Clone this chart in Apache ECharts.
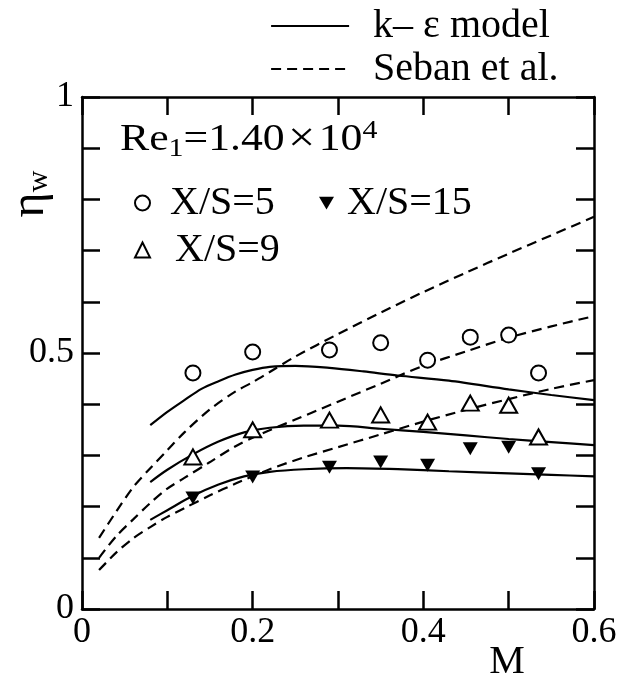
<!DOCTYPE html>
<html>
<head>
<meta charset="utf-8">
<script src="https://cdn.jsdelivr.net/npm/echarts@6/dist/echarts.min.js"></script>
<style>
  html, body { margin: 0; padding: 0; background: #fff; }
  #chart { width: 640px; height: 680px; }
</style>
</head>
<body>
<div id="chart"></div>
<script>
// measured points, M on x
const ptM   = [0.13, 0.2, 0.29, 0.35, 0.405, 0.455, 0.5, 0.535];
const xs5   = [0.461, 0.502, 0.506, 0.520, 0.486, 0.531, 0.535, 0.461];
const xs9   = [0.297, 0.350, 0.369, 0.379, 0.365, 0.402, 0.398, 0.336];
const xs15  = [0.217, 0.258, 0.277, 0.287, 0.281, 0.313, 0.316, 0.264];

// k-eps model curves
const ke5M    = [0.08, 0.10, 0.12, 0.14, 0.16, 0.18, 0.20, 0.22, 0.25, 0.29, 0.33, 0.37, 0.43, 0.50, 0.55, 0.60];
const ke5Eta  = [0.359, 0.385, 0.408, 0.43, 0.445, 0.458, 0.467, 0.473, 0.475, 0.471, 0.464, 0.456, 0.446, 0.429, 0.418, 0.408];
const ke9M    = [0.08, 0.10, 0.13, 0.16, 0.19, 0.22, 0.26, 0.30, 0.35, 0.40, 0.45, 0.50, 0.55, 0.60];
const ke9Eta  = [0.248, 0.272, 0.302, 0.327, 0.345, 0.354, 0.358, 0.358, 0.352, 0.346, 0.339, 0.332, 0.326, 0.32];
const ke15M   = [0.08, 0.10, 0.13, 0.16, 0.19, 0.22, 0.26, 0.31, 0.37, 0.43, 0.50, 0.55, 0.60];
const ke15Eta = [0.174, 0.193, 0.221, 0.243, 0.259, 0.268, 0.273, 0.275, 0.273, 0.269, 0.265, 0.262, 0.259];

// Seban et al. correlation
const sbAM   = [0.02, 0.04, 0.06, 0.08, 0.10, 0.12, 0.15, 0.18, 0.20, 0.22, 0.25, 0.30, 0.35, 0.40, 0.45, 0.50, 0.55, 0.60];
const sbAEta = [0.139, 0.19, 0.238, 0.275, 0.31, 0.345, 0.39, 0.425, 0.443, 0.463, 0.493, 0.537, 0.579, 0.619, 0.657, 0.694, 0.73, 0.766];
const sbBM   = [0.02, 0.04, 0.06, 0.08, 0.10, 0.12, 0.15, 0.18, 0.21, 0.25, 0.30, 0.35, 0.40, 0.45, 0.50, 0.55, 0.60];
const sbBEta = [0.10, 0.142, 0.175, 0.207, 0.235, 0.256, 0.287, 0.318, 0.342, 0.37, 0.405, 0.44, 0.475, 0.503, 0.53, 0.552, 0.572];
const sbCM   = [0.02, 0.04, 0.06, 0.08, 0.10, 0.12, 0.15, 0.18, 0.22, 0.26, 0.30, 0.35, 0.40, 0.45, 0.50, 0.55, 0.60];
const sbCEta = [0.076, 0.11, 0.138, 0.16, 0.18, 0.197, 0.222, 0.245, 0.273, 0.296, 0.316, 0.341, 0.366, 0.389, 0.41, 0.43, 0.447];

const KE = "k– ε model";
const SB = "Seban et al.";
const FONT = "Liberation Serif";

const zip = (xs, ys) => xs.map((x, i) => [x, ys[i]]);

function solid(m, eta) {
  return {
    name: KE, type: "line", data: zip(m, eta), smooth: 0.3, symbol: "none",
    lineStyle: { color: "#000", width: 2.2 }, itemStyle: { color: "#000" }, z: 2,
  };
}
function dashed(m, eta) {
  return {
    name: SB, type: "line", data: zip(m, eta), smooth: 0.3, symbol: "none",
    lineStyle: { color: "#000", width: 2.2, type: [10, 6] }, itemStyle: { color: "#000" }, z: 2,
  };
}

const TRI_DOWN = "path://M0,0L20,0L10,17Z";
const hollow = { color: "#fff", borderColor: "#000", borderWidth: 2, opacity: 1 };

const el = document.getElementById("chart");
const chart = echarts.init(el, null, { renderer: "canvas" });

const axisCommon = {
  type: "value",
  axisLine: { show: true, onZero: false, lineStyle: { color: "#000", width: 2.5 } },
  axisTick: { show: true, inside: true, length: 18, lineStyle: { color: "#000", width: 2.5 } },
  splitLine: { show: false },
};

function markerLegend(name, left, top, pad) {
  return {
    data: [name], left, top, padding: 0, orient: "horizontal",
    itemWidth: 15, itemHeight: 15, selectedMode: false,
    textStyle: { fontFamily: FONT, fontSize: 40, lineHeight: 40, color: "#000", padding: [0, 0, 0, pad] },
  };
}

chart.setOption({
  animation: false,
  backgroundColor: "#fff",
  grid: { left: 82, right: 46, top: 97, bottom: 71 },
  legend: [
    {
      data: [KE, SB], orient: "vertical", left: 270, top: 6, padding: 0,
      itemWidth: 78, itemHeight: 14, itemGap: 3, selectedMode: false,
      itemStyle: { opacity: 0, borderWidth: 0 },
      lineStyle: { width: 2.2 },
      textStyle: { fontFamily: FONT, fontSize: 40, lineHeight: 34, color: "#000", padding: [0, 0, 0, 19] },
    },
    markerLegend("X/S=5", 134, 183, 15),
    markerLegend("X/S=15", 319, 183, 8),
    markerLegend("X/S=9", 134, 230, 20),
  ],
  xAxis: [
    Object.assign({}, axisCommon, {
      position: "bottom", min: 0, max: 0.6, interval: 0.1,
      axisLabel: {
        fontFamily: FONT, fontSize: 36, color: "#000", margin: 6,
        formatter: v => (Math.round(v * 10) % 2 === 0 ? String(v) : ""),
      },
    }),
    Object.assign({}, axisCommon, {
      position: "top", min: 0, max: 0.6, interval: 0.1, axisLabel: { show: false },
    }),
  ],
  yAxis: [
    Object.assign({}, axisCommon, {
      position: "left", min: 0, max: 1, interval: 0.1,
      axisLabel: {
        fontFamily: FONT, fontSize: 36, color: "#000", margin: 8,
        formatter: v => (Math.round(v * 10) % 5 === 0 ? String(v) : ""),
      },
    }),
    Object.assign({}, axisCommon, {
      position: "right", min: 0, max: 1, interval: 0.1, axisLabel: { show: false },
    }),
  ],
  graphic: [
    {
      type: "text", x: 120, y: 140, scaleX: 1.15,
      style: {
        text: "{n|Re}{s|1}{n|=1.40}{x|×}{n|10}{p|4}",
        verticalAlign: "middle", align: "left", fill: "#000",
        rich: {
          n: { fontFamily: FONT, fontSize: 38, lineHeight: 44, fill: "#000" },
          x: { fontFamily: FONT, fontSize: 42, lineHeight: 44, fill: "#000", padding: [0, 3, 0, 3] },
          s: { fontFamily: FONT, fontSize: 26, lineHeight: 20, verticalAlign: "bottom", fill: "#000" },
          p: { fontFamily: FONT, fontSize: 26, lineHeight: 20, verticalAlign: "top", fill: "#000" },
        },
      },
    },
    {
      type: "text", x: 30, y: 194, rotation: Math.PI / 2,
      style: {
        text: "{e|η}{w|w}", align: "center", verticalAlign: "middle", fill: "#000",
        rich: {
          e: { fontFamily: FONT, fontSize: 48, lineHeight: 48, fill: "#000" },
          w: { fontFamily: FONT, fontSize: 30, lineHeight: 26, verticalAlign: "bottom", fill: "#000" },
        },
      },
    },
    {
      type: "text", x: 507, y: 662,
      style: { text: "M", fontFamily: FONT, fontSize: 40, align: "center", verticalAlign: "middle", fill: "#000" },
    },
  ],
  series: [
    solid(ke5M, ke5Eta),
    solid(ke9M, ke9Eta),
    solid(ke15M, ke15Eta),
    dashed(sbAM, sbAEta),
    dashed(sbBM, sbBEta),
    dashed(sbCM, sbCEta),
    { name: "X/S=5", type: "scatter", data: zip(ptM, xs5), symbol: "circle", symbolSize: 15, itemStyle: hollow, z: 3 },
    { name: "X/S=9", type: "scatter", data: zip(ptM, xs9), symbol: "triangle", symbolSize: [17, 15], itemStyle: hollow, z: 3 },
    { name: "X/S=15", type: "scatter", data: zip(ptM, xs15), symbol: TRI_DOWN, symbolSize: [15, 13], itemStyle: { color: "#000", opacity: 1 }, z: 3 },
  ],
});

window.addEventListener("resize", () => chart.resize());
</script>
</body>
</html>
